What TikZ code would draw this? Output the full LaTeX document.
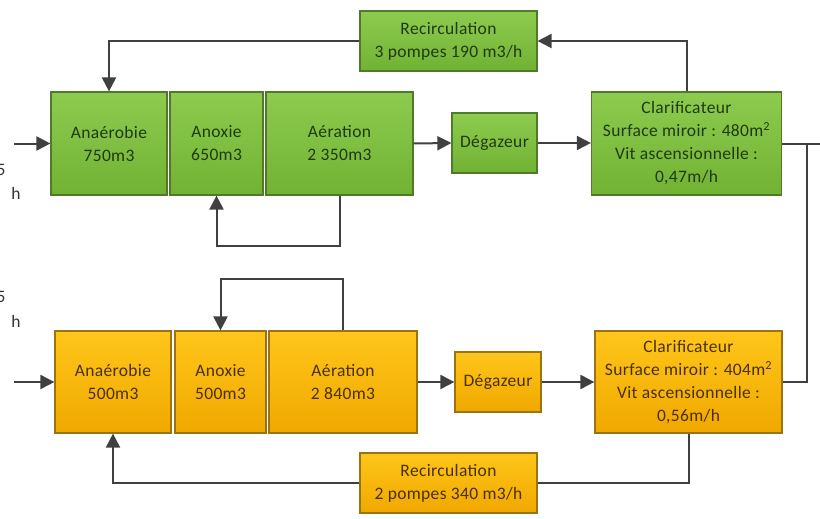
\documentclass[tikz,border=0pt]{standalone}
\usepackage{fontspec}
\setmainfont{Carlito}[LetterSpace=2]
\usetikzlibrary{arrows.meta,positioning,calc}
\definecolor{gtop}{HTML}{8CCB4E}
\definecolor{gbot}{HTML}{72B233}
\definecolor{gline}{HTML}{4F7A2A}
\definecolor{gtext}{HTML}{1F3A12}
\definecolor{otop}{HTML}{FFC61A}
\definecolor{obot}{HTML}{F0A800}
\definecolor{oline}{HTML}{9A7410}
\definecolor{otext}{HTML}{4A3000}
\definecolor{conn}{HTML}{404040}
\tikzset{
  gbox/.style={draw=gline, line width=1.2pt, top color=gtop, bottom color=gbot, text=gtext, align=center, inner sep=0pt, font=\fontsize{17.5}{23}\selectfont},
  obox/.style={draw=oline, line width=1.2pt, top color=otop, bottom color=obot, text=otext, align=center, inner sep=0pt, font=\fontsize{17.5}{23}\selectfont},
  conn/.style={draw=conn, line width=2pt},
  arr/.style={conn, -{Triangle[length=14pt,width=14pt]}},
  cut/.style={text=black!80, font=\fontsize{17.5}{23}\selectfont, inner sep=0pt}
}
\begin{document}
\begin{tikzpicture}[x=1pt,y=-1pt]
\useasboundingbox (0,0) rectangle (820,519);
% ---------- green line ----------
\node[gbox, minimum width=116pt, minimum height=103pt] (gana) at (109,143.5) {Anaérobie\\750m3};
\node[gbox, minimum width=93pt, minimum height=103pt] (ganox) at (216.5,143.5) {Anoxie\\650m3};
\node[gbox, minimum width=147pt, minimum height=103pt] (gaer) at (339.5,143.5) {Aération\\2 350m3};
\node[gbox, minimum width=85pt, minimum height=60pt] (gdeg) at (494.5,143) {Dégazeur};
\node[gbox, minimum width=177pt, minimum height=60pt] (grec) at (448.5,41) {Recirculation\\3 pompes 190 m3/h};
\node[gbox, minimum width=190pt, minimum height=103pt] (gcla) at (686.5,143.5) {Clarificateur\\Surface miroir : 480m\textsuperscript{2}\\Vit ascensionnelle :\\0,47m/h};
% ---------- orange line ----------
\node[obox, minimum width=116pt, minimum height=102pt] (oana) at (113,382) {Anaérobie\\500m3};
\node[obox, minimum width=91pt, minimum height=102pt] (oanox) at (220.5,382) {Anoxie\\500m3};
\node[obox, minimum width=148pt, minimum height=102pt] (oaer) at (343,382) {Aération\\2 840m3};
\node[obox, minimum width=86pt, minimum height=60pt] (odeg) at (498,382) {Dégazeur};
\node[obox, minimum width=177pt, minimum height=60pt] (orec) at (448.5,483) {Recirculation\\2 pompes 340 m3/h};
\node[obox, minimum width=187pt, minimum height=102pt] (ocla) at (688.5,382) {Clarificateur\\Surface miroir : 404m\textsuperscript{2}\\Vit ascensionnelle :\\0,56m/h};
% ---------- cut-off labels ----------
\node[cut] (g5) at (1,170) {5};
\node[cut] (gh) at (16,193) {h};
\node[cut] (o5) at (1,297) {5};
\node[cut] (oh) at (16,321) {h};
% ---------- free ends ----------
\coordinate (gin) at (14,143.5);
\coordinate (oin) at (14,382);
\coordinate (gout) at (820,143.5);
\coordinate (tee) at (807,143.5);
% ---------- connectors green ----------
\draw[arr] (gin) -- (gana.west);
\draw[arr] (gaer.east) -- (gdeg.west);
\draw[arr] (gdeg.east) -- (gdeg.east -| gcla.west);
\draw[conn] (gcla.east) -- (gout);
\draw[arr] (gcla.north) |- (grec.east);
\draw[arr] (grec.west) -| (gana.north);
\draw[arr] (gaer.south) -- ++(0,50) -| (ganox.south);
% ---------- connectors orange ----------
\draw[arr] (oin) -- (oana.west);
\draw[arr] (oaer.east) -- (odeg.west);
\draw[arr] (odeg.east) -- (odeg.east -| ocla.west);
\draw[conn] (tee) |- (ocla.east);
\draw[conn] (ocla.south) |- (orec.east);
\draw[arr] (orec.west) -| (oana.south);
\draw[arr] (oaer.north) -- ++(0,-51) -| (oanox.north);
\end{tikzpicture}
\end{document}
